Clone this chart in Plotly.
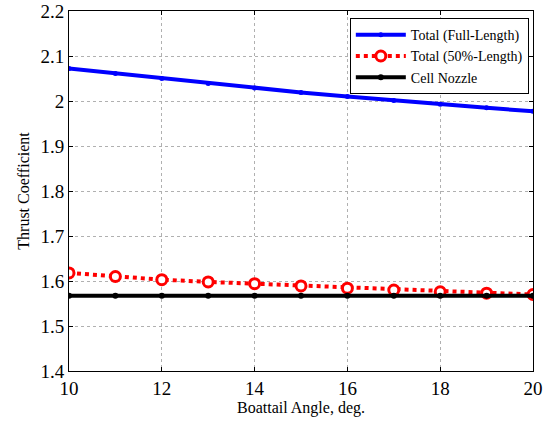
import plotly.graph_objects as go

angles = [10, 11, 12, 13, 14, 15, 16, 17, 18, 19, 20]
total_full = [2.072, 2.061, 2.050, 2.039, 2.029, 2.019, 2.010, 2.001, 1.993, 1.985, 1.977]
total_half = [1.618, 1.610, 1.603, 1.598, 1.594, 1.589, 1.584, 1.580, 1.576, 1.573, 1.570]
cell_nozzle = [1.567] * 11

x_ticks = [10, 12, 14, 16, 18, 20]
y_ticks = [1.4, 1.5, 1.6, 1.7, 1.8, 1.9, 2.0, 2.1, 2.2]
y_tick_labels = ["1.4", "1.5", "1.6", "1.7", "1.8", "1.9", "2", "2.1", "2.2"]

FONT = "'Liberation Serif', 'Times New Roman', Times, serif"

fig = go.Figure()
fig.add_trace(go.Scatter(
    x=angles, y=total_full, mode="lines+markers", name="Total (Full-Length)",
    line=dict(color="#0000ff", width=4),
    marker=dict(color="#0000ff", size=5, symbol="circle"),
))
fig.add_trace(go.Scatter(
    x=angles, y=total_half, mode="lines+markers", name="Total (50%-Length)",
    line=dict(color="#ff0000", width=4, dash="dot"),
    marker=dict(color="white", size=10, symbol="circle",
                line=dict(color="#ff0000", width=3)),
))
fig.add_trace(go.Scatter(
    x=angles, y=cell_nozzle, mode="lines+markers", name="Cell Nozzle",
    line=dict(color="black", width=4),
    marker=dict(color="black", size=6, symbol="circle"),
))

axis_common = dict(
    showline=True, linecolor="black", linewidth=1, mirror="allticks",
    ticks="inside", ticklen=4, tickcolor="black",
    showgrid=True, gridcolor="#b0b0b0", griddash="dot", gridwidth=1,
    zeroline=False, automargin=False,
    tickfont=dict(family=FONT, size=19, color="black"),
)

fig.update_layout(
    width=548, height=426,
    margin=dict(l=69, r=15, t=11, b=55, autoexpand=False),
    paper_bgcolor="white", plot_bgcolor="white",
    font=dict(family=FONT, color="black"),
    showlegend=True,
    legend=dict(
        x=0.991, y=0.98, xanchor="right", yanchor="top",
        bordercolor="black", borderwidth=1, bgcolor="white",
        font=dict(family=FONT, size=14, color="black"),
        tracegroupgap=0, itemwidth=50,
    ),
)
fig.update_xaxes(
    range=[10, 20], tickvals=x_ticks,
    title=dict(text="Boattail Angle, deg.", font=dict(family=FONT, size=16), standoff=2),
    **axis_common,
)
fig.update_yaxes(
    range=[1.4, 2.2], tickvals=y_ticks, ticktext=y_tick_labels,
    title=dict(text="Thrust Coefficient", font=dict(family=FONT, size=16), standoff=6),
    **axis_common,
)

fig.write_html("out.html")
